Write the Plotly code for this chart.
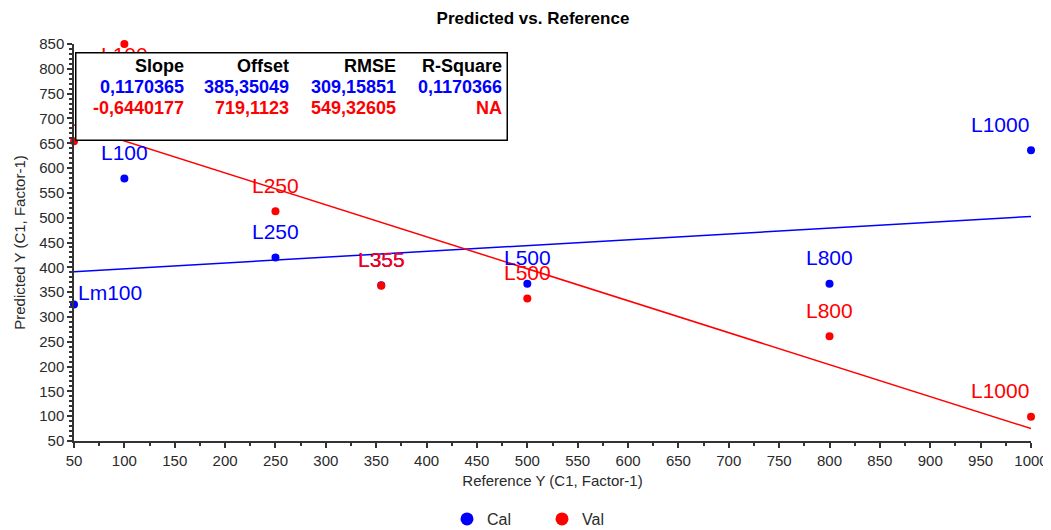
import plotly.graph_objects as go

# sample names and values
sample_names = ["Lm100", "L100", "L250", "L355", "L500", "L800", "L1000"]
reference_y = [50, 100, 250, 355, 500, 800, 1000]
cal_predicted = [325, 579, 420, 364, 367, 367, 636]
val_predicted = [654, 850, 513, 363, 337, 261, 99]

# regression statistics (as printed in the box)
stat_headers = ["Slope", "Offset", "RMSE", "R-Square"]
cal_stats = ["0,1170365", "385,35049", "309,15851", "0,1170366"]
val_stats = ["-0,6440177", "719,1123", "549,32605", "NA"]
cal_slope, cal_offset = 0.1170365, 385.35049
val_slope, val_offset = -0.6440177, 719.1123

x_ticks = list(range(50, 1001, 50))
y_ticks = list(range(50, 851, 50))

BLUE = "#0000FF"
RED = "#FF0000"
FONT = "Liberation Sans, Arial, sans-serif"

# the page body adds an 8px margin, so the figure is sized a bit smaller
W, H = 1043, 522

fig = go.Figure()

# regression lines
x_line = [min(reference_y), max(reference_y)]
fig.add_trace(go.Scatter(x=x_line, y=[cal_slope * x + cal_offset for x in x_line],
                         mode="lines", line=dict(color=BLUE, width=1.5),
                         showlegend=False, hoverinfo="skip"))
fig.add_trace(go.Scatter(x=x_line, y=[val_slope * x + val_offset for x in x_line],
                         mode="lines", line=dict(color=RED, width=1.5),
                         showlegend=False, hoverinfo="skip"))

# points
fig.add_trace(go.Scatter(x=reference_y, y=cal_predicted, mode="markers", name="Cal",
                         marker=dict(color=BLUE, size=8), cliponaxis=False, showlegend=False))
fig.add_trace(go.Scatter(x=reference_y, y=val_predicted, mode="markers", name="Val",
                         marker=dict(color=RED, size=8), cliponaxis=False, showlegend=False))

# legend-only entries (bigger symbols, like the original)
fig.add_trace(go.Scatter(x=[None], y=[None], mode="markers", name="Cal",
                         marker=dict(color=BLUE, size=13)))
fig.add_trace(go.Scatter(x=[None], y=[None], mode="markers", name="Val",
                         marker=dict(color=RED, size=13)))

annotations = []


def point_label(x, y, text, color):
    ann = dict(x=x, y=y, xref="x", yref="y", text=text, showarrow=False,
               font=dict(family=FONT, size=21, color=color),
               xanchor="center", yanchor="middle", yshift=26)
    if x == min(reference_y):
        ann.update(xanchor="left", xshift=2)
        if color == BLUE:
            ann.update(yshift=12)
    elif x == max(reference_y):
        ann.update(xanchor="right", xshift=0)
    if y >= 850:
        ann.update(yanchor="top", yshift=3)
    return ann


for x, y, s in zip(reference_y, cal_predicted, sample_names):
    annotations.append(point_label(x, y, s, BLUE))
for x, y, s in zip(reference_y, val_predicted, sample_names):
    annotations.append(point_label(x, y, s, RED))


# statistics box, drawn over the data (positions in screen pixels -> paper)
def px_x(p):
    return (p - 74) / 957


def px_y(p):
    return (441 - p) / 397


annotations.append(dict(x=px_x(75), y=px_y(52), xref="paper", yref="paper",
                        xanchor="left", yanchor="top", text=" ", showarrow=False,
                        width=430, height=86, bgcolor="white", bordercolor="black",
                        borderwidth=1.5, borderpad=0))

col_right = [186, 291, 398, 504]
row_y = [66, 87, 108]
rows = [(stat_headers, "black"), (cal_stats, BLUE), (val_stats, RED)]
for (vals, color), ry in zip(rows, row_y):
    for v, cx in zip(vals, col_right):
        annotations.append(dict(x=px_x(cx), y=px_y(ry), xref="paper", yref="paper",
                                xanchor="right", yanchor="middle", text="<b>%s</b>" % v,
                                showarrow=False,
                                font=dict(family=FONT, size=18, color=color)))

axis_common = dict(
    showgrid=False, zeroline=False, showline=True, linecolor="#333", linewidth=1.5,
    ticks="outside", ticklen=5, tickwidth=1.5, tickcolor="#333", automargin=False,
    tickfont=dict(family=FONT, size=15, color="#2a2a2a"),
    title_font=dict(family=FONT, size=15, color="#2a2a2a"),
)

fig.update_xaxes(range=[50, 1000], tickvals=x_ticks,
                 minor=dict(dtick=25, tick0=50, ticks="outside", ticklen=3, tickcolor="#333"),
                 title_text="Reference Y (C1, Factor-1)", title_standoff=8, **axis_common)
fig.update_yaxes(range=[50, 850], tickvals=y_ticks,
                 minor=dict(dtick=10, tick0=50, ticks="outside", ticklen=3, tickcolor="#333"),
                 title_text="Predicted Y (C1, Factor-1)", title_standoff=10, **axis_common)

fig.update_layout(
    width=W, height=H,
    margin=dict(l=66, r=20, t=36, b=89, autoexpand=False),
    paper_bgcolor="white", plot_bgcolor="white",
    title=dict(text="<b>Predicted vs. Reference</b>", x=525 / W, xanchor="center",
               y=1 - 10 / H, yanchor="middle",
               font=dict(family=FONT, size=17, color="black")),
    legend=dict(orientation="h", x=px_x(542), xanchor="center", y=px_y(519), yanchor="middle",
                font=dict(family=FONT, size=16, color="#2a2a2a"), entrywidth=50),
    annotations=annotations,
)

fig.write_html("out.html")
